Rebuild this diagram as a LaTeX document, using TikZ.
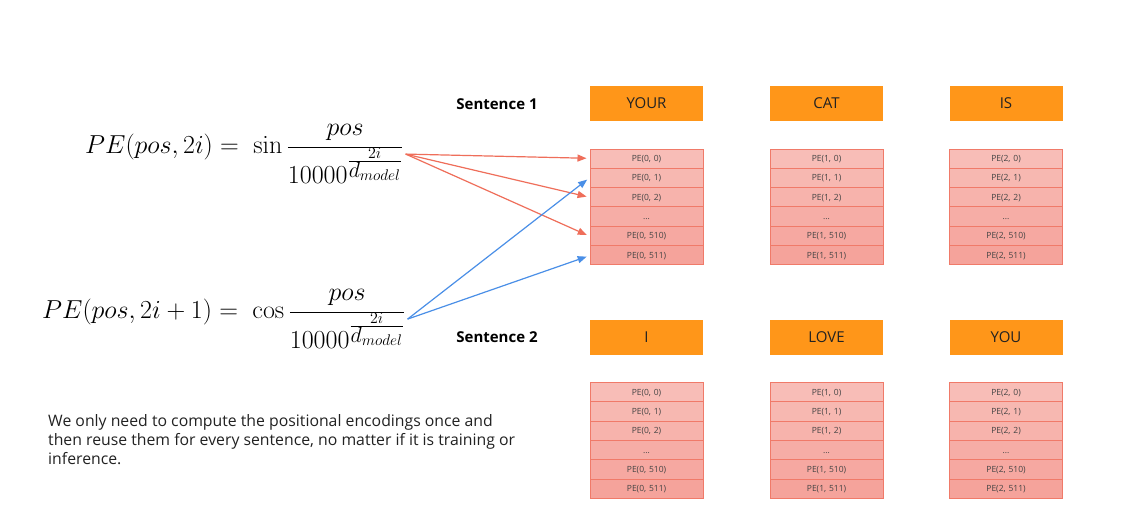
\RequirePackage{fix-cm}
\documentclass[tikz,border=0pt]{standalone}
\usepackage[no-math]{fontspec}
\setmainfont{Open Sans}
\usetikzlibrary{positioning, shapes.multipart, arrows.meta, calc}
\definecolor{wordOrange}{HTML}{FF9619}
\definecolor{cellTop}{HTML}{F8BDB7}
\definecolor{cellBot}{HTML}{F5A39B}
\definecolor{cellLine}{HTML}{F07A69}
\definecolor{sinRed}{HTML}{EF6E5A}
\definecolor{cosBlue}{HTML}{4A8FE7}
\definecolor{textDark}{HTML}{222222}
\definecolor{textGray}{HTML}{444444}
\newcommand{\rowstrut}{\rule[-6.2pt]{0pt}{18.3pt}}
\newcommand{\pexp}{\frac{\mbox{\fontsize{16}{16}\selectfont$2i$}}{\mbox{\fontsize{22}{22}\selectfont$d_{model}$}}}

\begin{document}
\begin{tikzpicture}[
    x=1pt, y=-1pt,
    every node/.style={font=\fontsize{15}{19}\selectfont, text=textDark},
    word/.style={fill=wordOrange, minimum width=113pt, minimum height=35pt, inner sep=0pt},
    stack/.style={
        draw=cellLine, line width=1pt,
        rectangle split, rectangle split parts=6,
        rectangle split draw splits=true,
        rectangle split part fill={cellTop, cellBot!20!cellTop, cellBot!40!cellTop, cellBot!60!cellTop, cellBot!80!cellTop, cellBot},
        text width=113pt, align=center,
        inner xsep=0pt, inner ysep=0pt,
        font=\fontsize{8.5}{10}\selectfont, text=textGray,
    },
    formula/.style={font=\fontsize{26}{30}\selectfont, inner sep=2pt, text=black},
    sentence/.style={font=\fontsize{15}{18}\selectfont\bfseries, text=black},
    sinlink/.style={-{Triangle[length=9pt, width=7pt]}, draw=sinRed, line width=1.2pt, shorten >=3pt},
    coslink/.style={-{Triangle[length=9pt, width=7pt]}, draw=cosBlue, line width=1.2pt, shorten >=3pt},
]
\fill[white] (0,0) rectangle (1145,526);
\useasboundingbox (0,0) rectangle (1145,526);
% Формулы
\node[formula, anchor=base west] (pe_sin) at (83,153.5) {$\displaystyle PE(pos,2i) =\; \sin\frac{pos}{10000^{\pexp}}$};
\node[formula, anchor=base west] (pe_cos) at (40,318.5) {$\displaystyle PE(pos,2i+1) =\; \cos\frac{pos}{10000^{\pexp}}$};
% Подписи предложений
\node[sentence] (sent1) at (497,104) {Sentence 1};
\node[sentence] (sent2) at (497,337) {Sentence 2};
% Слова
\node[word] (your) at ( 646.5, 103.5) {YOUR};
\node[word] (cat)  at ( 826.5, 103.5) {CAT};
\node[word] (is)   at (1006,   103.5) {IS};
\node[word] (i)    at ( 646.5, 337.5) {I};
\node[word] (love) at ( 826.5, 337.5) {LOVE};
\node[word] (you)  at (1006,   337.5) {YOU};
% Позиционные кодировки
\node[stack] (pe_your) at ( 646.5, 207) {\rowstrut PE(0, 0) \nodepart{two}\rowstrut PE(0, 1) \nodepart{three}\rowstrut PE(0, 2) \nodepart{four}\rowstrut ... \nodepart{five}\rowstrut PE(0, 510) \nodepart{six}\rowstrut PE(0, 511)};
\node[stack] (pe_cat)  at ( 826.5, 207) {\rowstrut PE(1, 0) \nodepart{two}\rowstrut PE(1, 1) \nodepart{three}\rowstrut PE(1, 2) \nodepart{four}\rowstrut ... \nodepart{five}\rowstrut PE(1, 510) \nodepart{six}\rowstrut PE(1, 511)};
\node[stack] (pe_is)   at (1006,   207) {\rowstrut PE(2, 0) \nodepart{two}\rowstrut PE(2, 1) \nodepart{three}\rowstrut PE(2, 2) \nodepart{four}\rowstrut ... \nodepart{five}\rowstrut PE(2, 510) \nodepart{six}\rowstrut PE(2, 511)};
\node[stack] (pe_i)    at ( 646.5, 440.5) {\rowstrut PE(0, 0) \nodepart{two}\rowstrut PE(0, 1) \nodepart{three}\rowstrut PE(0, 2) \nodepart{four}\rowstrut ... \nodepart{five}\rowstrut PE(0, 510) \nodepart{six}\rowstrut PE(0, 511)};
\node[stack] (pe_love) at ( 826.5, 440.5) {\rowstrut PE(1, 0) \nodepart{two}\rowstrut PE(1, 1) \nodepart{three}\rowstrut PE(1, 2) \nodepart{four}\rowstrut ... \nodepart{five}\rowstrut PE(1, 510) \nodepart{six}\rowstrut PE(1, 511)};
\node[stack] (pe_you)  at (1006,   440.5) {\rowstrut PE(2, 0) \nodepart{two}\rowstrut PE(2, 1) \nodepart{three}\rowstrut PE(2, 2) \nodepart{four}\rowstrut ... \nodepart{five}\rowstrut PE(2, 510) \nodepart{six}\rowstrut PE(2, 511)};
% Пояснение
\node[anchor=north west, align=left, inner sep=0pt, font=\fontsize{15.8}{19}\selectfont] (note) at (48,414) {We only need to compute the positional encodings once and\\ then reuse them for every sentence, no matter if it is training or\\ inference.};
% Связи
\draw[sinlink] (pe_sin.east) -- ($(pe_your.north west)!0.0833!(pe_your.south west)$);
\draw[sinlink] (pe_sin.east) -- ($(pe_your.north west)!0.4167!(pe_your.south west)$);
\draw[sinlink] (pe_sin.east) -- ($(pe_your.north west)!0.75!(pe_your.south west)$);
\draw[coslink] (pe_cos.east) -- ($(pe_your.north west)!0.25!(pe_your.south west)$);
\draw[coslink] (pe_cos.east) -- ($(pe_your.north west)!0.9167!(pe_your.south west)$);
\end{tikzpicture}
\end{document}
